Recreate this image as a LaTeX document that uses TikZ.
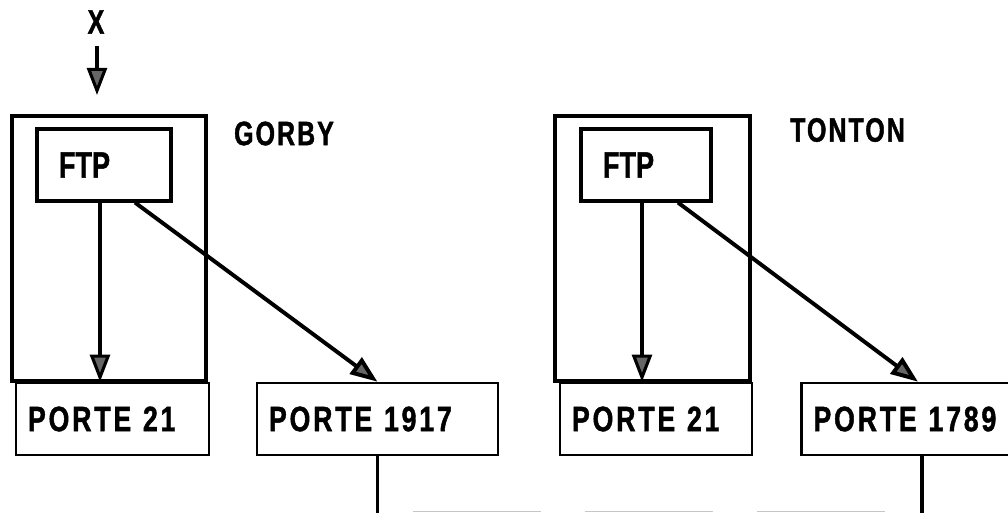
\documentclass[tikz,border=0pt]{standalone}
\usepackage{fontspec}
\newfontfamily\labfont[FakeStretch=0.74, LetterSpace=6, FakeBold=1.2]{Liberation Sans}
\newfontfamily\ftpfont[FakeStretch=0.74, FakeBold=1.2]{Liberation Sans}
\newfontfamily\portfont[FakeStretch=0.76, LetterSpace=8, WordSpace=2, FakeBold=1.2]{Liberation Sans}
\usepackage{tikz}
\usetikzlibrary{arrows.meta, positioning, calc}

\begin{document}
\begin{tikzpicture}[x=0.025cm, y=-0.025cm,
    host/.style={rectangle, draw, line width=3pt, minimum width=4.85cm,
      minimum height=6.625cm},
    ftp/.style={rectangle, draw, line width=2.2pt, minimum height=1.8cm,
      inner xsep=0.55cm, text width=#1, align=left,
      font=\ftpfont\bfseries\fontsize{26pt}{28pt}\selectfont},
    porte/.style={rectangle, draw, line width=1.8pt, minimum height=1.8cm,
      inner xsep=0.3cm, text width=#1, align=left,
      font=\portfont\bfseries\fontsize{25pt}{27pt}\selectfont},
    lab/.style={inner sep=0pt, font=\labfont\bfseries\fontsize{24pt}{26pt}\selectfont},
    arrow/.style={line width=2.2pt, -{Triangle[length=0.68cm, width=0.5cm, fill=black!60]}},
    link/.style={line width=2.2pt}
]
\useasboundingbox (0,0) rectangle (1008,513);
\clip (0,0) rectangle (1008,513);

% premiere machine
\node[host] (gorby) at (109,248.5) {};
\node[ftp=2.25cm] (ftpg) at (104,165) {FTP};
\node[porte=4.225cm] (p21g) at (112.5,419) {PORTE 21};
\node[porte=5.425cm] (p1917) at (377.5,419) {PORTE 1917};
\node[lab] (ngorby) at (284,133.5) {GORBY};

% seconde machine
\node[host, minimum width=4.875cm] (tonton) at (652.5,248.5) {};
\node[ftp=2.15cm] (ftpt) at (646,165) {FTP};
\node[porte=4.2cm] (p21t) at (656,419) {PORTE 21};
\node[porte=5.425cm] (p1789) at (922,419) {PORTE 1789};
\node[lab] (ntonton) at (847.5,130) {TONTON};

% entree
\node[lab] (xlab) at (96,22) {X};
\coordinate (xin) at (97,95);
\draw[arrow, shorten <=0.3cm] (xlab.south -| xin) -- (xin);

% connexions
\draw[arrow] (ftpg.south -| p21g) ++(-12.5,0) coordinate (a1) -- (a1 |- p21g.north);
\draw[arrow, line width=2.8pt] ($(ftpg.south)+(31,0)$) -- (p1917.north);
\draw[arrow] (ftpt.south -| p21t) ++(-14,0) coordinate (a2) -- (a2 |- p21t.north);
\draw[arrow, line width=2.8pt] ($(ftpt.south)+(32,0)$) -- ($(p1789.north)+(-4,0)$);

\coordinate (bas1) at (377.5,513);
\coordinate (bas2) at (922,513);
\draw[link] (p1917.south) -- (bas1);
\draw[link] (p1789.south) -- (bas2);
\draw[gray!45, line width=0.6pt, dash pattern=on 3.2cm off 1.1cm] (413,511.5) -- (915,511.5);
\end{tikzpicture}
\end{document}
